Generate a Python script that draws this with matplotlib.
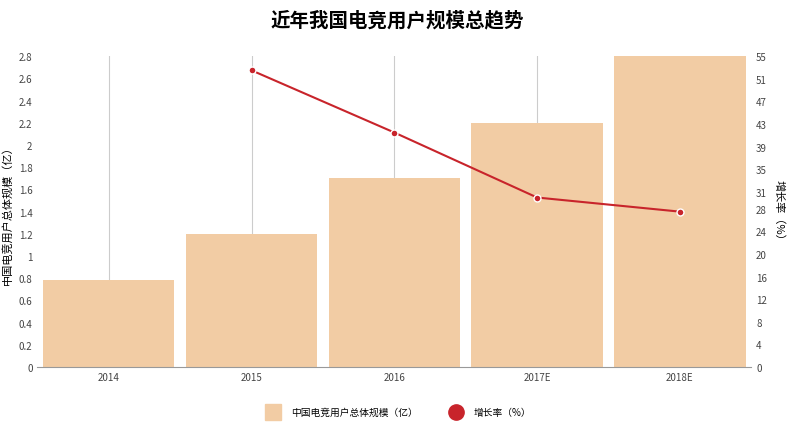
import matplotlib.pyplot as plt
from matplotlib.lines import Line2D
import numpy as np

plt.rcParams['font.family'] = ['Noto Sans CJK SC', 'DejaVu Sans']

years = ['2014', '2015', '2016', '2017E', '2018E']
users = [0.78, 1.2, 1.7, 2.2, 2.8]
growth_years = ['2015', '2016', '2017E', '2018E']
growth = [52.5, 41.5, 30.0, 27.5]
left_ticks = np.round(np.arange(0, 2.81, 0.2), 1)
right_ticks = [0, 4, 8, 12, 16, 20, 24, 28, 31, 35, 39, 43, 47, 51, 55]

bar_color = '#f2cca4'
line_color = '#c8242b'

fig = plt.figure(figsize=(7.95, 4.27), dpi=100)
ax = fig.add_axes([0.047, 0.138, 0.898, 0.728])
x = np.arange(len(years))
ax.bar(x, users, width=0.92, color=bar_color, zorder=2)
ax.set_xlim(-0.5, len(years) - 0.5)
ax.set_ylim(0, 2.8)
ax.set_yticks(left_ticks)
ax.set_yticklabels([f'{v:g}' for v in left_ticks])
ax.set_xticks(x)
ax.set_xticklabels(years)
ax.grid(axis='x', color='#cccccc', lw=0.8, zorder=0)
for s in ['top', 'right', 'left']:
    ax.spines[s].set_visible(False)
ax.spines['bottom'].set_color('#999999')
ax.tick_params(length=0, labelsize=7, colors='#444444')
ax.set_ylabel('中国电竞用户总体规模（亿）', fontsize=8)

ax2 = ax.twinx()
gx = [years.index(g) for g in growth_years]
ax2.plot(gx, growth, color=line_color, lw=1.5, marker='o', ms=5,
         markerfacecolor=line_color, markeredgecolor='white', zorder=3)
ax2.set_ylim(0, 55)
ax2.set_yticks(right_ticks)
for s in ['top', 'right', 'left', 'bottom']:
    ax2.spines[s].set_visible(False)
ax2.tick_params(length=0, labelsize=7, colors='#444444')
ax2.set_ylabel('增长率（%）', fontsize=8, rotation=270, labelpad=12)

fig.suptitle('近年我国电竞用户规模总趋势', fontsize=14, fontweight='bold', y=0.975)

handles = [
    Line2D([], [], ls='none', marker='s', ms=11, color=bar_color),
    Line2D([], [], ls='none', marker='o', ms=11, color=line_color),
]
fig.legend(handles, ['中国电竞用户总体规模（亿）', '增长率（%）'], loc='lower center', ncol=2,
           frameon=False, fontsize=7, bbox_to_anchor=(0.5, 0.0), columnspacing=3,
           handletextpad=0.8)

fig.savefig('out.png', dpi=100)
